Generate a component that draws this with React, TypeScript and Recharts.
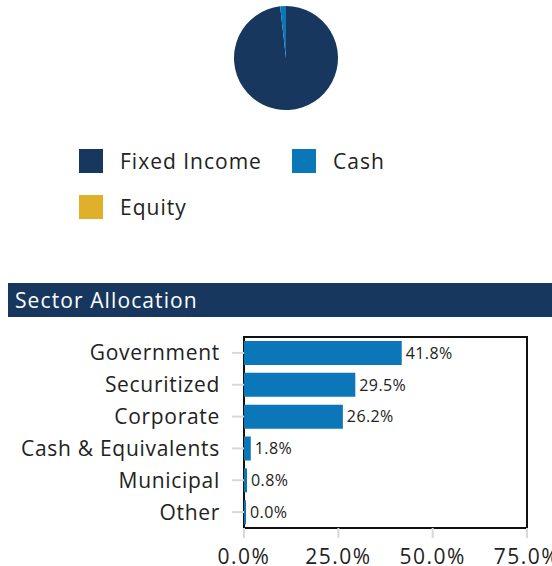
import React from 'react'
import { PieChart, Pie, Cell, BarChart, Bar, XAxis, YAxis, ReferenceArea, LabelList } from 'recharts'

const assetNames = ['Fixed Income', 'Cash', 'Equity']
const assetValues = [98.2, 1.8, 0]
const assetColors = ['#17375f', '#0b76b8', '#e0b02a']

const sectorNames = ['Government', 'Securitized', 'Corporate', 'Cash & Equivalents', 'Municipal', 'Other']
const sectorValues = [41.8, 29.5, 26.2, 1.8, 0.8, 0.0]
const xTicks = [0, 25, 50, 75]

const FONT = '"Open Sans", "Noto Sans", sans-serif'

const pieData = assetNames.map((name, i) => ({ name, value: assetValues[i] }))
const barData = sectorNames.map((name, i) => ({ name, value: sectorValues[i] }))

const pct = (v: any) => Number(v).toFixed(1) + '%'

function AssetLegend() {
  const spots = [
    { left: 79, top: 148 },
    { left: 292, top: 148 },
    { left: 79, top: 194 },
  ]
  return (
    <>
      {assetNames.map((name, i) => (
        <div key={name} style={{ position: 'absolute', left: spots[i].left, top: spots[i].top, display: 'flex', alignItems: 'center' }}>
          <div style={{ width: 24, height: 24, background: assetColors[i] }} />
          <span style={{ marginLeft: 17, fontSize: 21, letterSpacing: 1, color: '#222', fontFamily: FONT, lineHeight: '26px' }}>{name}</span>
        </div>
      ))}
    </>
  )
}

export default function App() {
  return (
    <div style={{ position: 'fixed', left: 0, top: 0, width: 552, height: 566, background: '#fff', overflow: 'hidden', fontFamily: FONT }}>
      <div style={{ position: 'absolute', left: 0, top: 0 }}>
        <PieChart width={552} height={120} margin={{ top: 0, right: 0, bottom: 0, left: 0 }}>
          <Pie
            data={pieData}
            dataKey="value"
            cx={286}
            cy={58}
            outerRadius={52}
            startAngle={90}
            endAngle={-270}
            stroke="none"
            isAnimationActive={false}
          >
            {pieData.map((d, i) => (
              <Cell key={d.name} fill={assetColors[i]} />
            ))}
          </Pie>
        </PieChart>
      </div>
      <AssetLegend />
      <div style={{ position: 'absolute', left: 8, top: 283, width: 544, height: 34, background: '#17375f', color: '#fff', fontSize: 21, letterSpacing: 1.1, lineHeight: '34px', paddingLeft: 7, boxSizing: 'border-box' }}>
        Sector Allocation
      </div>
      <div style={{ position: 'absolute', left: 0, top: 320 }}>
        <BarChart width={552} height={246} data={barData} layout="vertical" margin={{ top: 17, right: 25, bottom: 0, left: 0 }} barCategoryGap={4}>
          <XAxis
            type="number"
            domain={[0, 75]}
            ticks={xTicks}
            tickFormatter={pct}
            axisLine={false}
            tickLine={{ stroke: '#d8d8d8', strokeWidth: 2 }}
            tickSize={10}
            tickMargin={11}
            height={38}
            tick={{ fontSize: 21, letterSpacing: 1.5, fill: '#222', fontFamily: FONT }}
            interval={0}
          />
          <YAxis
            type="category"
            dataKey="name"
            width={244}
            axisLine={false}
            tickLine={{ stroke: '#d8d8d8', strokeWidth: 2 }}
            tickSize={12}
            tickMargin={12}
            tick={{ fontSize: 21, letterSpacing: 0.7, fill: '#222', fontFamily: FONT }}
            interval={0}
          />
          <ReferenceArea x1={0} x2={75} fill="none" stroke="#111" strokeWidth={2} ifOverflow="visible" />
          <Bar dataKey="value" fill="#0b76b8" minPointSize={2} isAnimationActive={false}>
            <LabelList dataKey="value" position="right" offset={4} formatter={pct} style={{ fontSize: 16, letterSpacing: 0.4, fill: '#222', fontFamily: FONT }} />
          </Bar>
        </BarChart>
      </div>
    </div>
  )
}
